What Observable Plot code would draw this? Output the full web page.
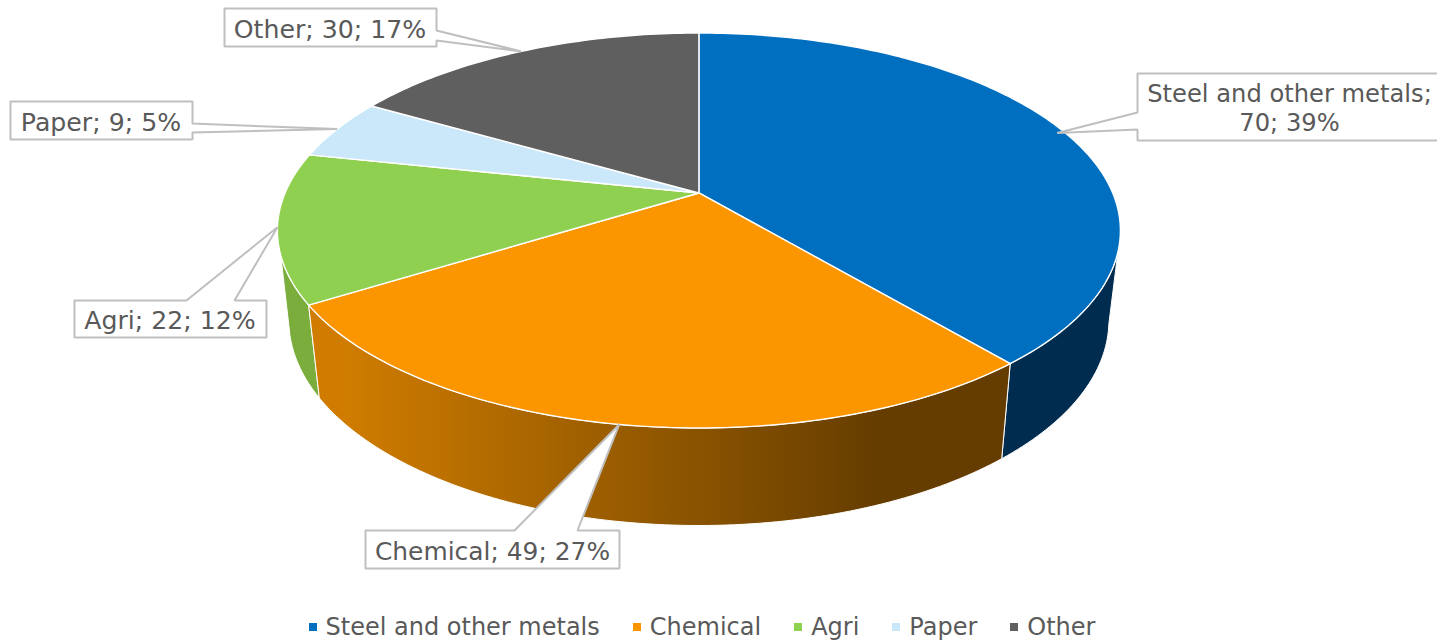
<!DOCTYPE html>
<html>
<head>
<meta charset="utf-8">
<script src="https://cdn.jsdelivr.net/npm/d3@7"></script>
<script src="https://cdn.jsdelivr.net/npm/@observablehq/plot@0.6"></script>
<style>
  html, body { margin: 0; padding: 0; background: #fff; overflow: hidden; }
  #legend { display: flex; justify-content: center; align-items: center; box-sizing: border-box; height: 36px; gap: 33px;
            padding: 8px 33px 0 0;
            font: 24px "DejaVu Sans", sans-serif; color: #595959; }
  #legend span.item { display: inline-flex; align-items: center; gap: 9px; white-space: nowrap; }
  #legend i { display: inline-block; width: 8px; height: 8px; }
  svg { display: block; }
</style>
</head>
<body>
<div id="chart"></div>
<div id="legend"></div>
<script>
// ---- data ----
const categories = ["Steel and other metals", "Chemical", "Agri", "Paper", "Other"];
const values = [70, 49, 22, 9, 30];
const colors = ["#006fc0", "#fb9600", "#90d050", "#cae8fa", "#5f5f5f"];

// ---- layout: the tilted disc, seen in perspective ----
const W = 1437, H = 605;
const top_ = {cx: 698.4, cy: 230, rx: 421.5, ry: 197.5};
const bottom_ = {cx: 698.4, cy: 320, rx: 410, ry: 205};
const tilt = 0.19;

// ---- layout: callouts (box, wedge base, wedge tip radius, label centre, label size) ----
const callouts = [
  {box: [1137, 73, 1450, 140], side: "left",   base: [112, 129], r: 0.98, at: [1289, 107],   size: 24.2},
  {box: [365, 530, 619, 568],  side: "top",    base: [514, 577], r: 1,    at: [492, 549.5],  size: 24.9},
  {box: [74, 300, 266, 337],   side: "top",    base: [186, 234], r: 1,    at: [169.5, 319],  size: 25.2},
  {box: [10, 101, 192, 139],   side: "right",  base: [123, 132], r: 1,    at: [100.5, 120.5],size: 25.2},
  {box: [224, 8, 436, 46],     side: "right",  base: [30, 40],   r: 1,    at: [329.5, 27.5], size: 25.2}
];

// ---- geometry derived from the values ----
const total = d3.sum(values);
const cum = d3.cumsum(values);
const startDeg = i => (i ? cum[i - 1] : 0) / total * 360;
const endDeg = i => cum[i] / total * 360;
const midDeg = i => (startDeg(i) + endDeg(i)) / 2;

function project(deg, r, e) {
  const t = deg * Math.PI / 180;
  const X = r * Math.sin(t), Y = r * Math.cos(t);
  const w = 1 + tilt * Y;
  const u = X * Math.sqrt(1 - tilt * tilt) / w;
  const v = (Y + tilt) / w;
  return {x: e.cx + e.rx * u, y: e.cy - e.ry * v};
}
function arc(a, b, e) {
  const n = Math.max(2, Math.ceil(Math.abs(b - a)));
  return d3.range(n + 1).map(k => project(a + (b - a) * k / n, 1, e));
}

const slicePoints = categories.flatMap((name, i) => {
  const pts = [project(0, 0, top_), ...arc(startDeg(i), endDeg(i), top_), project(0, 0, top_)];
  return pts.map(p => ({...p, name}));
});
function sidePoints(a0, a1, b0, b1) {
  const top = arc(a0, a1, top_), bot = arc(b1, b0, bottom_);
  return [...top, ...bot, top[0]];
}
const steelSide = sidePoints(107, endDeg(0), 102, endDeg(0));
const chemSide = sidePoints(startDeg(1), endDeg(1), startDeg(1), endDeg(1));
const agriSide = sidePoints(startDeg(2), 252, startDeg(2), 255);

const calloutPoints = callouts.flatMap((c, i) => {
  const name = categories[i];
  const [x1, y1, x2, y2] = c.box;
  const tip = project(midDeg(i), c.r, top_);
  const [b0, b1] = c.base;
  let pts;
  if (c.side === "top") pts = [[x1,y1],[b0,y1],[tip.x,tip.y],[b1,y1],[x2,y1],[x2,y2],[x1,y2],[x1,y1]];
  if (c.side === "left") pts = [[x1,y1],[x2,y1],[x2,y2],[x1,y2],[x1,b1],[tip.x,tip.y],[x1,b0],[x1,y1]];
  if (c.side === "right") pts = [[x1,y1],[x2,y1],[x2,b0],[tip.x,tip.y],[x2,b1],[x2,y2],[x1,y2],[x1,y1]];
  return pts.map(([x, y]) => ({x, y, name}));
});
const labels = callouts.map((c, i) => {
  const pct = Math.round(values[i] / total * 100);
  const sep = i === 0 ? ";\n" : "; ";
  return {x: c.at[0], y: c.at[1], size: c.size, text: `${categories[i]}${sep}${values[i]}; ${pct}%`};
});

// gradient of the chemical side, placed through the x scale
const gradient = (index, {x}) => {
  const svg = d3.create("svg:g");
  const g = svg.append("defs").append("linearGradient")
    .attr("id", "chem-side").attr("gradientUnits", "userSpaceOnUse")
    .attr("x1", x(345)).attr("x2", x(880)).attr("y1", 0).attr("y2", 0);
  g.append("stop").attr("offset", 0).attr("stop-color", "#cf7c00");
  g.append("stop").attr("offset", 1).attr("stop-color", "#653d00");
  return svg.node();
};

const edge = {x: "x", y: "y", curve: "linear", stroke: "#fff", strokeWidth: 1};

const chart = Plot.plot({
  width: W, height: H,
  marginTop: 0, marginRight: 0, marginBottom: 0, marginLeft: 0,
  x: {axis: null, domain: [0, W], range: [0, W]},
  y: {axis: null, domain: [0, H], range: [0, H]},
  color: {domain: categories, range: colors},
  style: {background: "#fff", overflow: "hidden"},
  marks: [
    gradient,
    Plot.line(steelSide, {...edge, fill: "#002d4f"}),
    Plot.line(agriSide, {...edge, fill: "#7aad3c"}),
    Plot.line(chemSide, {...edge, fill: "url(#chem-side)"}),
    Plot.line(slicePoints, {x: "x", y: "y", z: "name", fill: "name", curve: "linear", stroke: "#fff", strokeWidth: 1.4, strokeLinejoin: "round"}),
    Plot.line(calloutPoints, {x: "x", y: "y", z: "name", curve: "linear", fill: "#fff", stroke: "#bfbfbf", strokeWidth: 2, strokeLinejoin: "miter"}),
    Plot.text(labels, {x: "x", y: "y", text: "text", fontSize: "size", textAnchor: "middle", lineAnchor: "middle",
      lineHeight: 1.2, fontFamily: "'DejaVu Sans', sans-serif", fill: "#595959"})
  ]
});
document.getElementById("chart").append(chart);

const legend = d3.select("#legend");
categories.forEach((c, i) => {
  const item = legend.append("span").attr("class", "item");
  item.append("i").style("background", colors[i]);
  item.append("span").text(c);
});
</script>
</body>
</html>
